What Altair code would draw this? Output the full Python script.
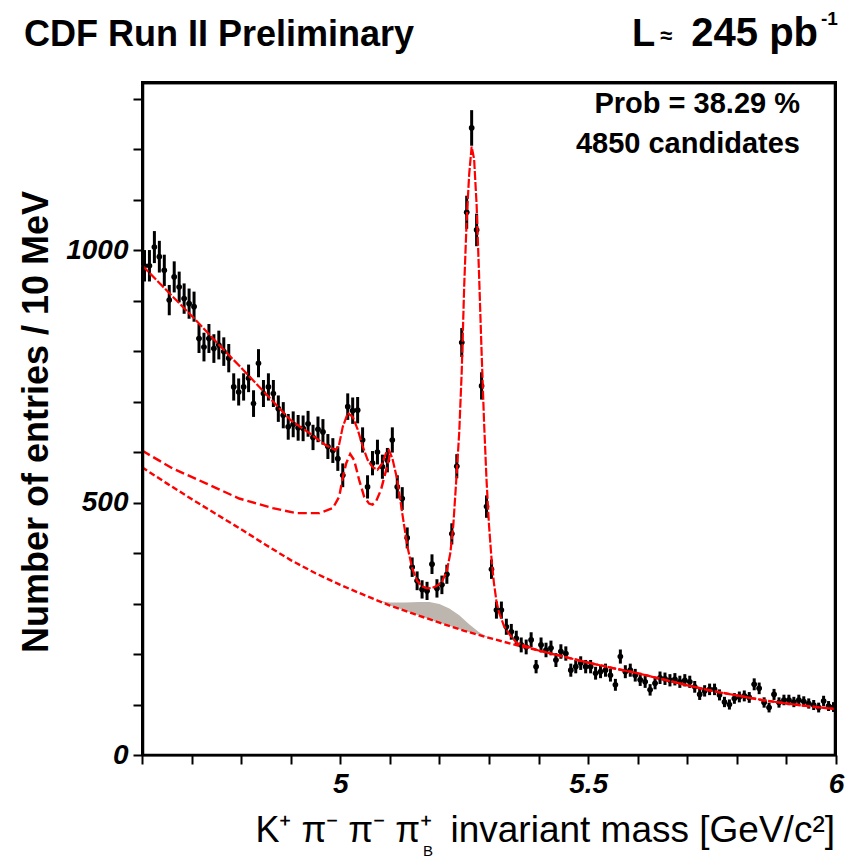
import altair as alt
import pandas as pd

# ---------------- data ----------------
BIN_LO = 4.605     # first bin centre, GeV/c^2
BIN_W = 0.01       # 10 MeV bins

counts = [969, 969, 1006, 987, 960, 901, 947, 927, 904, 894,
          888, 825, 808, 825, 805, 812, 799, 786, 729, 719,
          729, 746, 696, 776, 716, 729, 716, 686, 673, 650,
          655, 648, 647, 656, 629, 645, 640, 611, 603, 587,
          554, 690, 682, 683, 624, 531, 578, 600, 571, 584,
          624, 531, 508, 430, 372, 345, 328, 325, 378, 330,
          337, 358, 438, 572, 817, 1075, 1242, 1040, 731, 492,
          368, 287, 287, 254, 244, 231, 218, 214, 228, 175,
          218, 208, 212, 188, 205, 201, 168, 175, 182, 175,
          175, 162, 165, 168, 158, 139, 195, 165, 168, 158,
          149, 145, 129, 142, 153, 151, 148, 150, 145, 148,
          145, 135, 120, 127, 130, 130, 119, 105, 100, 112,
          115, 117, 114, 140, 132, 104, 94, 120, 104, 109,
          109, 105, 109, 106, 102, 99, 94, 107, 97, 95]
mass = [round(BIN_LO + BIN_W * i, 3) for i in range(len(counts))]

# total fit
fit_m = [4.600, 4.650, 4.700, 4.750, 4.800, 4.850, 4.900, 4.940, 4.970, 4.990,
         4.997, 5.005, 5.015, 5.025, 5.035, 5.045, 5.055, 5.065, 5.075, 5.085,
         5.093, 5.098, 5.105, 5.115, 5.125, 5.135, 5.145, 5.155, 5.165, 5.175,
         5.185, 5.195, 5.205, 5.215, 5.222, 5.228, 5.235, 5.240, 5.245, 5.250,
         5.255, 5.260, 5.265, 5.270, 5.275, 5.280, 5.285, 5.290, 5.295, 5.300,
         5.305, 5.310, 5.315, 5.320, 5.330, 5.342, 5.356, 5.400, 5.450, 5.500,
         5.550, 5.600, 5.650, 5.700, 5.750, 5.800, 5.850, 5.900, 5.950, 6.000]
fit_total = [970, 920, 870, 818, 767, 715, 663, 636, 614, 604,
             612, 650, 677, 670, 645, 612, 585, 570, 565, 578,
             600, 604, 588, 545, 479, 415, 370, 345, 334, 330,
             331, 335, 343, 365, 400, 455, 560, 640, 760, 930,
             1060, 1150, 1205, 1180, 1090, 950, 800, 660, 545, 455,
             390, 340, 305, 283, 256, 238, 222, 207, 195, 183,
             172, 162, 150, 138, 127, 118, 109, 102, 96, 91]

# background + partially reconstructed component
mid_m = [4.600, 4.661, 4.729, 4.796, 4.864, 4.911, 4.958, 4.985, 4.998, 5.004,
         5.012, 5.020, 5.028, 5.038, 5.048, 5.058, 5.065, 5.072, 5.082, 5.089,
         5.096, 5.100]
mid_v = [603, 568, 538, 508, 489, 479, 479, 489, 512, 545,
         578, 596, 584, 545, 512, 498, 496, 502, 525, 551,
         578, 595]

# combinatorial background
bkg_m = [4.60, 4.65, 4.70, 4.75, 4.80, 4.85, 4.90, 4.95, 5.00, 5.05,
         5.10, 5.15, 5.20, 5.25, 5.30, 5.35, 5.40, 5.45, 5.50, 5.55,
         5.60, 5.65, 5.70, 5.75, 5.80, 5.85, 5.90, 5.95, 6.00]
bkg_v = [570, 538, 507, 477, 447, 416, 386, 360, 337, 316,
         296, 279, 262, 246, 232, 219, 207, 195, 183, 172,
         162, 150, 138, 127, 118, 109, 102, 96, 91]

# grey shaded component
gray_m = [5.08, 5.10, 5.13, 5.16, 5.18, 5.20, 5.22, 5.24, 5.26, 5.28, 5.30]
gray_top = [305, 302, 302, 303, 303, 299, 290, 277, 259, 243, 232]
gray_bot = [305, 296, 286, 276, 269, 262, 256, 249, 243, 238, 232]

X_MIN, X_MAX = 4.6, 6.0
Y_MIN, Y_MAX = 0, 1333
x_ticks = [round(4.6 + 0.1 * k, 1) for k in range(15)]
y_ticks = list(range(0, 1400, 100))

FONT = "Liberation Sans"
W, H = 694, 673

# ---------------- scales / axes ----------------
xscale = alt.Scale(domain=[X_MIN, X_MAX], nice=False, zero=False)
yscale = alt.Scale(domain=[Y_MIN, Y_MAX], nice=False, zero=True)

xaxis = alt.Axis(
    values=x_ticks, format="~g", title=None, grid=False, tickSize=9,
    labelExpr="(abs(datum.value*2 - round(datum.value*2)) < 0.01 && datum.value > 4.95) ? datum.label : ''",
    labelFont=FONT, labelFontSize=28, labelFontStyle="italic", labelFontWeight="bold",
    labelColor="black", labelPadding=6, labelFlush=False,
    tickColor="black", tickWidth=2, domainColor="black", domainWidth=2,
)
yaxis = alt.Axis(
    values=y_ticks, format="d", title=None, grid=False, tickSize=9,
    labelExpr="datum.value % 500 === 0 ? datum.label : ''",
    labelFont=FONT, labelFontSize=28, labelFontStyle="italic", labelFontWeight="bold",
    labelColor="black", labelPadding=5,
    tickColor="black", tickWidth=2, domainColor="black", domainWidth=2,
)

hist = pd.DataFrame({"m": mass, "n": counts})
fit_df = pd.DataFrame({"m": fit_m, "v": fit_total})
mid_df = pd.DataFrame({"m": mid_m, "v": mid_v})
bkg_df = pd.DataFrame({"m": bkg_m, "v": bkg_v})
gray_df = pd.DataFrame({"m": gray_m, "top": gray_top, "bot": gray_bot})
# top and right edges of the plot box (drawn just inside the box)
edge_df = pd.DataFrame({"ex": [X_MIN, X_MAX - 0.0015, X_MAX - 0.0015],
                        "ey": [Y_MAX - 2, Y_MAX - 2, Y_MIN],
                        "order": [0, 1, 2]})

gray = alt.Chart(gray_df).mark_area(color="#bdb6ae", opacity=1).encode(
    x=alt.X("m:Q", scale=xscale, axis=xaxis),
    y=alt.Y("top:Q", scale=yscale, axis=yaxis),
    y2="bot:Q",
)

base = alt.Chart(hist).transform_calculate(
    lo="datum.n - sqrt(datum.n)", hi="datum.n + sqrt(datum.n)",
    ml=f"datum.m - {BIN_W/2}", mh=f"datum.m + {BIN_W/2}",
)
ebar = base.mark_rule(color="black", strokeWidth=3).encode(
    x=alt.X("m:Q", scale=xscale), y=alt.Y("lo:Q", scale=yscale), y2="hi:Q")
hbar = base.mark_rule(color="black", strokeWidth=2.2).encode(
    x=alt.X("ml:Q", scale=xscale), x2="mh:Q", y=alt.Y("n:Q", scale=yscale))
pts = base.mark_circle(color="black", size=32, opacity=1).encode(
    x=alt.X("m:Q", scale=xscale), y=alt.Y("n:Q", scale=yscale))

bkg_line = alt.Chart(bkg_df).mark_line(color="#ff0000", strokeWidth=2.4, strokeDash=[6, 3]).encode(
    x=alt.X("m:Q", scale=xscale), y=alt.Y("v:Q", scale=yscale))
mid_line = alt.Chart(mid_df).mark_line(color="#ff0000", strokeWidth=2.4, strokeDash=[9, 4]).encode(
    x=alt.X("m:Q", scale=xscale), y=alt.Y("v:Q", scale=yscale))
fit_line = alt.Chart(fit_df).mark_line(color="#ff0000", strokeWidth=2.2, strokeDash=[9, 2]).encode(
    x=alt.X("m:Q", scale=xscale), y=alt.Y("v:Q", scale=yscale))

edge = alt.Chart(edge_df).mark_line(color="black", strokeWidth=2.5).encode(
    x=alt.X("ex:Q", scale=xscale), y=alt.Y("ey:Q", scale=yscale), order="order:Q")

box_df = pd.DataFrame({"k": [1]})
box = alt.Chart(box_df).mark_rect(
    fillOpacity=0, fill="white", stroke="black", strokeWidth=2.5, strokeOpacity=1,
).encode(x=alt.value(1), x2=alt.value(W - 1), y=alt.value(1), y2=alt.value(H))


def label(text, x, y, size, weight="normal", align="left", angle=0, baseline="alphabetic"):
    return alt.Chart(pd.DataFrame({"t": [text]})).mark_text(
        font=FONT, fontSize=size, fontWeight=weight, align=align, baseline=baseline,
        angle=angle, color="black",
    ).encode(text="t:N", x=alt.value(x), y=alt.value(y))


texts = [
    label("CDF Run II Preliminary", -118, -36, 36, "bold"),
    label("L", 490, -36, 38, "bold"),
    label("\u2248", 518, -39, 22, "bold"),
    label("245 pb", 676, -36, 40, "bold", align="right"),
    label("-1", 679, -57, 19, "bold"),
    label("Prob = 38.29 %", 658, 31, 29, "bold", align="right"),
    label("4850 candidates", 658, 71, 29, "bold", align="right"),
    label("Number of entries / 10 MeV", -105, 340, 36, "bold", align="center",
          angle=270, baseline="middle"),
    label("invariant mass [GeV/c\u00b2]", 693, 760, 37, align="right"),
    label("K\u207a \u03c0\u207b \u03c0\u207b \u03c0\u207a", 290, 760, 36, align="right"),
    label("B", 281, 774, 15),
]

chart = alt.layer(gray, ebar, hbar, pts, bkg_line, mid_line, fit_line, edge, box, *texts).properties(
    width=W, height=H,
    autosize=alt.AutoSizeParams(type="none"),
    padding={"left": 142, "top": 82, "right": 15, "bottom": 106},
).configure_view(stroke="black", strokeWidth=2)

chart.save("out.html", embed_options={"renderer": "svg", "actions": False})
